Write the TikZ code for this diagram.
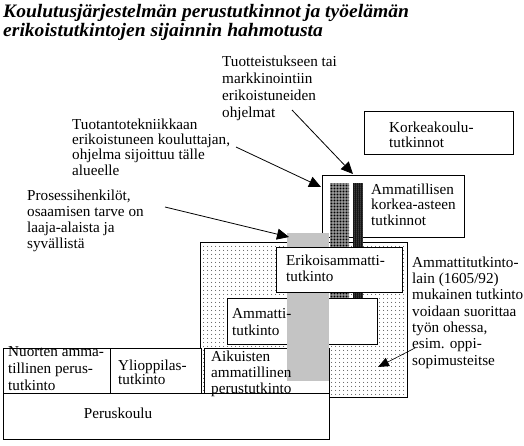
\documentclass[tikz,border=0pt]{standalone}
\usepackage{fontspec}
\setmainfont{Liberation Serif}
\newfontfamily\titlefont{Liberation Serif}[FakeStretch=1.03]
\usetikzlibrary{patterns.meta,arrows.meta}
\setlength{\lineskiplimit}{-50pt}
\newcommand\lblfont[1]{\fontsize{15.2}{#1}\selectfont}
\begin{document}
\begin{tikzpicture}[x=1pt,y=-1pt,
  box/.style={draw=black,line width=1pt,fill=white},
  lbl/.style={anchor=base west,inner sep=0pt,align=left,font={\lblfont{#1}}},
  lbl/.default=16.3,
  ttl/.style={anchor=base west,inner sep=0pt,font=\titlefont\fontsize{19}{20}\selectfont\bfseries\itshape},
  callout/.style={line width=0.8pt,-{Triangle[length=12pt,width=11pt]}},
  callsmall/.style={line width=0.6pt,-{Triangle[length=11pt,width=9pt]}},
]
\useasboundingbox (0,0) rectangle (524,445);
% title
\node[ttl] (title1) at (3,17) {\makebox[179pt][l]{Koulutusjärjestelmän}\makebox[123pt][l]{perustutkinnot}\makebox[20pt][l]{ja}työelämän};
\node[ttl] (title2) at (3,36) {erikoistutkintojen sijainnin hahmotusta};
% dotted region
\fill[white] (200,242) rectangle (407,397);
\draw[line width=1pt,pattern={Dots[distance=4pt,radius=0.5pt]}] (200,242) rectangle (407,397);
% upper boxes
\draw[box] (364,111) rectangle (513,154);
\draw[box] (322,175) rectangle (464,237);
% bars behind
\fill[gray!45] (330,183) rectangle (349,298);
\fill[pattern={Dots[distance=1.5pt,radius=0.6pt]}] (330,183) rectangle (349,298);
\fill[black] (353,183) rectangle (363,298);
\fill[pattern={Dots[distance=2pt,radius=0.5pt]},pattern color=white] (353,183) rectangle (363,298);
% Ammatti box
\draw[box] (227,298) rectangle (377,344);
% bottom row
\draw[box] (3,348) rectangle (110,393);
\draw[box] (110,348) rectangle (201,393);
\draw[box] (204,348) rectangle (329,394);
% light bar
\fill[white] (287,233) rectangle (329,380);
\fill[pattern={Dots[distance=2pt,radius=0.55pt]}] (287,233) rectangle (329,380);
% Erikoisammatti box
\draw[box] (276,247) rectangle (402,292);
% Peruskoulu
\draw[box] (3,393) rectangle (329,439);
% labels (anchor = baseline of last line)
\node[lbl=16.7] (tuote) at (222,117) {Tuotteistukseen tai\\markkinointiin\\erikoistuneiden\\ohjelmat};
\node[lbl=15.3] (tekn) at (72,175) {Tuotantotekniikkaan\\erikoistuneen kouluttajan,\\ohjelma sijoittuu tälle\\alueelle};
\node[lbl=15.7] (prosessi) at (27,248) {Prosessihenkilöt,\\osaamisen tarve on\\laaja-alaista ja\\syvällistä};
\node[lbl=15] (korkea) at (389,147) {Korkeakoulu-\\tutkinnot};
\node[lbl=15.5] (amk) at (371,225) {Ammatillisen\\korkea-asteen\\tutkinnot};
\node[lbl=16] (erik) at (286,281) {Erikoisammatti-\\tutkinto};
\node[lbl=17] (ammatti) at (232,335) {Ammatti-\\tutkinto};
\node[lbl=16.3] (laki) at (412,365) {Ammattitutkinto-\\lain (1605/92)\\mukainen tutkinto\\voidaan suorittaa\\työn ohessa,\\esim. oppi-\\sopimusteitse};
\node[lbl=17] (nuorten) at (8,390) {Nuorten amma-\\tillinen perus-\\tutkinto};
\node[lbl=14] (yo) at (118,384) {Ylioppilas-\\tutkinto};
\node[lbl=16] (aikuiset) at (211,393) {Aikuisten\\ammatillinen\\perustutkinto};
\node[lbl,anchor=base] (perus) at (118,418) {Peruskoulu};
% callouts
\coordinate (aS) at (292,110); \coordinate (aE) at (353,174);
\coordinate (bS) at (236,147); \coordinate (bE) at (321,187);
\coordinate (cS) at (165,207); \coordinate (cE) at (289,237);
\coordinate (dS) at (415,348); \coordinate (dE) at (378,367);
\draw[callout] (aS) -- (aE);
\draw[callout] (bS) -- (bE);
\draw[callout] (cS) -- (cE);
\draw[callsmall] (dS) -- (dE);
\end{tikzpicture}
\end{document}
